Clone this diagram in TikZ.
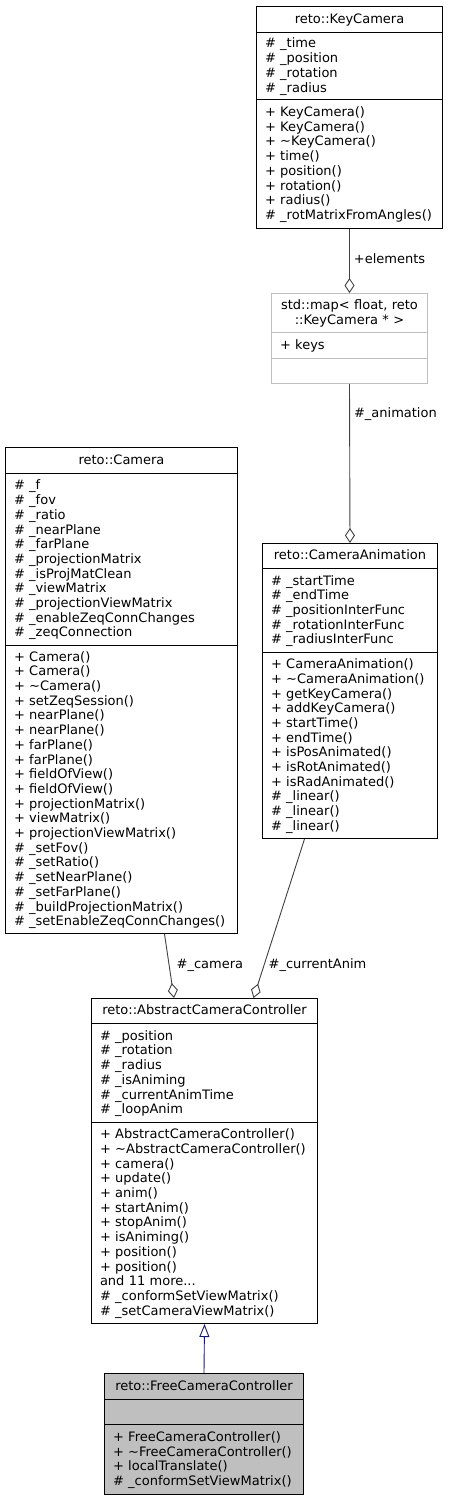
\documentclass[tikz,border=0pt]{standalone}
\usepackage{fontspec}
\setmainfont{DejaVu Sans}
\usetikzlibrary{arrows.meta}
\definecolor{edgegray}{HTML}{404040}
\definecolor{boxgray}{HTML}{BFBFBF}
\definecolor{inhblue}{HTML}{191970}
\newcommand\cf{\fontsize{13pt}{14.7pt}\selectfont}
\newcommand\ls{\rule[-3.4pt]{0pt}{14.7pt}}
\newcommand\tl{\textasciitilde}
\begin{document}
\begin{tikzpicture}[x=1pt,y=-1pt,
  box/.style={draw=black, line width=1pt, inner xsep=8.5pt, inner ysep=0pt, anchor=north west, font=\cf},
  ttl/.style={box, align=center},
  sec/.style={box, align=left},
  edge/.style={draw=edgegray, line width=0.9pt},
  agg/.style={edge, {Diamond[open, length=15pt, width=10pt]}-},
  inh/.style={draw=inhblue, line width=0.9pt, -{Triangle[open, length=13pt, width=10pt]}},
  lbl/.style={font=\cf, inner sep=1pt, anchor=west, text=black}]
\fill[white] (0,0) rectangle (448,1500);
\useasboundingbox (0,0) rectangle (448,1500);

% reto::KeyCamera
\node[ttl, minimum width=186pt, text width=169pt, minimum height=26pt] (kc-t) at (256,6) {\ls reto::KeyCamera};
\node[sec, minimum width=186pt, text width=169pt, minimum height=67pt] (kc-a) at (256,32)
  {\ls\#~\_time\\\ls\#~\_position\\\ls\#~\_rotation\\\ls\#~\_radius};
\node[sec, minimum width=186pt, text width=169pt, minimum height=129pt] (kc-m) at (256,99)
  {\ls+~KeyCamera()\\\ls+~KeyCamera()\\\ls+~\tl KeyCamera()\\\ls+~time()\\\ls+~position()\\\ls+~rotation()\\\ls+~radius()\\\ls\#~\_rotMatrixFromAngles()};

% std::map
\node[ttl, draw=boxgray, minimum width=156pt, text width=139pt, minimum height=39pt] (map-t) at (271,293)
  {\ls std::map< float, reto\\\ls ::KeyCamera * >};
\node[sec, draw=boxgray, minimum width=156pt, text width=139pt, minimum height=26pt] (map-a) at (271,332) {\ls+~keys};
\node[sec, draw=boxgray, minimum width=156pt, text width=139pt, minimum height=25pt] (map-m) at (271,358) {};

% reto::Camera
\node[ttl, minimum width=232pt, text width=215pt, minimum height=26pt] (cam-t) at (5,447) {\ls reto::Camera};
\node[sec, minimum width=232pt, text width=215pt, minimum height=172pt] (cam-a) at (5,473)
  {\ls\#~\_f\\\ls\#~\_fov\\\ls\#~\_ratio\\\ls\#~\_nearPlane\\\ls\#~\_farPlane\\\ls\#~\_projectionMatrix\\\ls\#~\_isProjMatClean\\\ls\#~\_viewMatrix\\\ls\#~\_projectionViewMatrix\\\ls\#~\_enableZeqConnChanges\\\ls\#~\_zeqConnection};
\node[sec, minimum width=232pt, text width=215pt, minimum height=288pt] (cam-m) at (5,645)
  {\ls+~Camera()\\\ls+~Camera()\\\ls+~\tl Camera()\\\ls+~setZeqSession()\\\ls+~nearPlane()\\\ls+~nearPlane()\\\ls+~farPlane()\\\ls+~farPlane()\\\ls+~fieldOfView()\\\ls+~fieldOfView()\\\ls+~projectionMatrix()\\\ls+~viewMatrix()\\\ls+~projectionViewMatrix()\\\ls\#~\_setFov()\\\ls\#~\_setRatio()\\\ls\#~\_setNearPlane()\\\ls\#~\_setFarPlane()\\\ls\#~\_buildProjectionMatrix()\\\ls\#~\_setEnableZeqConnChanges()};

% reto::CameraAnimation
\node[ttl, minimum width=175pt, text width=158pt, minimum height=25pt] (ca-t) at (262,543) {\ls reto::CameraAnimation};
\node[sec, minimum width=175pt, text width=158pt, minimum height=84pt] (ca-a) at (262,568)
  {\ls\#~\_startTime\\\ls\#~\_endTime\\\ls\#~\_positionInterFunc\\\ls\#~\_rotationInterFunc\\\ls\#~\_radiusInterFunc};
\node[sec, minimum width=175pt, text width=158pt, minimum height=186pt] (ca-m) at (262,652)
  {\ls+~CameraAnimation()\\\ls+~\tl CameraAnimation()\\\ls+~getKeyCamera()\\\ls+~addKeyCamera()\\\ls+~startTime()\\\ls+~endTime()\\\ls+~isPosAnimated()\\\ls+~isRotAnimated()\\\ls+~isRadAnimated()\\\ls\#~\_linear()\\\ls\#~\_linear()\\\ls\#~\_linear()};

% reto::AbstractCameraController
\node[ttl, minimum width=226pt, text width=209pt, minimum height=25pt] (abs-t) at (91,998) {\ls reto::AbstractCameraController};
\node[sec, minimum width=226pt, text width=209pt, minimum height=99pt] (abs-a) at (91,1023)
  {\ls\#~\_position\\\ls\#~\_rotation\\\ls\#~\_radius\\\ls\#~\_isAniming\\\ls\#~\_currentAnimTime\\\ls\#~\_loopAnim};
\node[sec, minimum width=226pt, text width=209pt, minimum height=201pt] (abs-m) at (91,1122)
  {\ls+~AbstractCameraController()\\\ls+~\tl AbstractCameraController()\\\ls+~camera()\\\ls+~update()\\\ls+~anim()\\\ls+~startAnim()\\\ls+~stopAnim()\\\ls+~isAniming()\\\ls+~position()\\\ls+~position()\\\ls and 11 more...\\\ls\#~\_conformSetViewMatrix()\\\ls\#~\_setCameraViewMatrix()};

% reto::FreeCameraController
\node[ttl, fill=boxgray, minimum width=199pt, text width=182pt, minimum height=26pt] (free-t) at (104,1373) {\ls reto::FreeCameraController};
\node[sec, fill=boxgray, minimum width=199pt, text width=182pt, minimum height=25pt] (free-a) at (104,1399) {};
\node[sec, fill=boxgray, minimum width=199pt, text width=182pt, minimum height=70pt] (free-m) at (104,1424)
  {\ls+~FreeCameraController()\\\ls+~\tl FreeCameraController()\\\ls+~localTranslate()\\\ls\#~\_conformSetViewMatrix()};

% connectors
\draw[agg] (map-t.north) -- (kc-m.south) node[lbl, pos=0.54, xshift=3pt] {+elements};
\draw[agg] (ca-t.north) -- (map-m.south) node[lbl, pos=0.81, xshift=3pt] {\#\_animation};
\draw[agg] ([xshift=-30.5pt]abs-t.north) -- ([xshift=43pt]cam-m.south) node[lbl, pos=0.51, xshift=6pt] {\#\_camera};
\draw[agg] ([xshift=49pt]abs-t.north) -- ([xshift=-45.5pt]ca-m.south) node[lbl, pos=0.21, xshift=3pt] {\#\_currentAnim};
\draw[inh] (free-t.north) -- (abs-m.south);
\end{tikzpicture}
\end{document}
